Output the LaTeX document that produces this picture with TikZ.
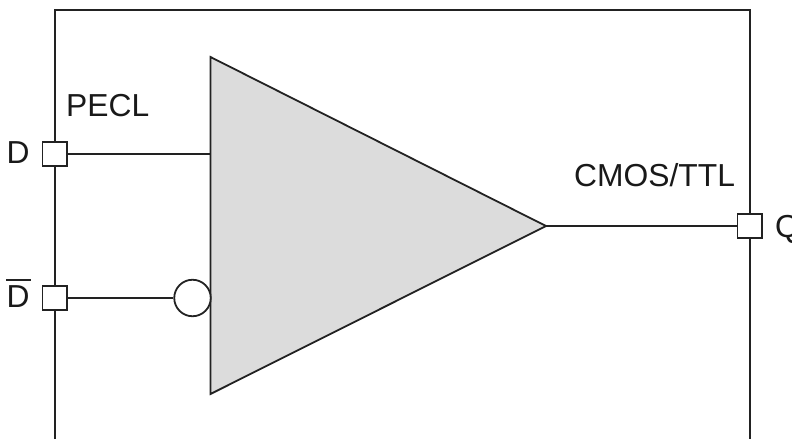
\documentclass[tikz,border=0pt]{standalone}
\usepackage{fontspec}
\setmainfont{Liberation Sans}
\definecolor{ink}{HTML}{222222}
\definecolor{tri}{HTML}{DCDCDC}
\begin{document}
\begin{tikzpicture}[x=1pt,y=-1pt,
  wire/.style={draw=ink,line width=1.8pt},
  pin/.style={draw=ink,line width=1.8pt,fill=white,minimum size=24.5pt,inner sep=0pt},
  lab/.style={font=\fontsize{31.8}{34}\selectfont,text=black!90,inner sep=0pt}]
\useasboundingbox (0,0) rectangle (792,439);
\coordinate (bl) at (54.7,439);
\coordinate (tl) at (54.7,10);
\coordinate (tr) at (749.7,10);
\coordinate (br) at (749.7,439);
\draw[wire] (bl) -- (tl) -- (tr) -- (br);
\coordinate (ta) at (210.5,57);
\coordinate (tb) at (210.5,394);
\coordinate (tc) at (546,226);
\draw[wire,fill=tri,line join=miter] (ta) -- (tc) -- (tb) -- cycle;
\node[pin] (pd) at (54.7,154) {};
\node[pin] (pn) at (54.7,298) {};
\node[pin] (pq) at (749.7,226) {};
\node[circle,draw=ink,line width=1.8pt,fill=white,minimum size=36.5pt,inner sep=0pt] (bub) at (192.5,298) {};
\coordinate (ind) at (210.5,154);
\draw[wire] (pd) -- (ind);
\draw[wire] (pn) -- (bub);
\draw[wire] (tc) -- (pq);
\node[lab,anchor=base west] (tp) at (66,116) {PECL};
\node[lab,anchor=base west] (tc2) at (574,186) {CMOS/TTL};
\node[lab,anchor=base west] (td) at (6.5,163) {D};
\node[lab,anchor=base west] (tn) at (6.5,307) {D};
\node[lab,anchor=base west] (tq) at (775,237) {Q};
\coordinate (barl) at (6,280);
\coordinate (barr) at (31,280);
\draw[wire] (barl) -- (barr);
\end{tikzpicture}
\end{document}
